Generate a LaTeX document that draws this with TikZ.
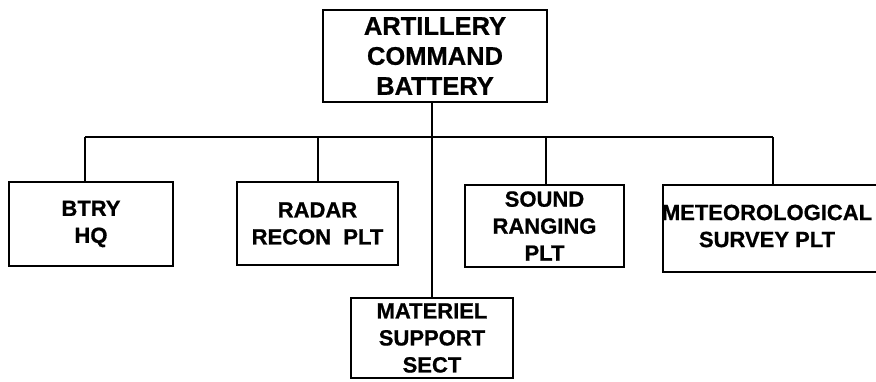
\documentclass[tikz,border=0pt]{standalone}
\usepackage{fontspec}
\setmainfont{Liberation Sans}
\newfontfamily\heavyfont{Liberation Sans Bold}[FakeBold=0.8]
\begin{document}
\begin{tikzpicture}[x=1pt,y=-1pt,
  box/.style={draw,line width=2.6pt,inner sep=0pt,align=center,font=\heavyfont\fontsize{22}{27}\selectfont},
  bigbox/.style={box,font=\heavyfont\fontsize{25.5}{30}\selectfont},
  txt/.style={inner sep=0pt,align=center,font=\heavyfont\fontsize{22}{27}\selectfont},
  conn/.style={line width=2.6pt}]
\useasboundingbox (0,0) rectangle (876,381);
\clip (0,0) rectangle (876,381);
\node[bigbox,minimum width=224pt,minimum height=92pt] (top) at (435,56) {ARTILLERY\\COMMAND\\BATTERY};
\node[box,minimum width=164pt,minimum height=84pt] (btry) at (91,224) {BTRY\\HQ};
\node[box,minimum width=161pt,minimum height=83pt] (radar) at (317.5,223.5) {RADAR\\RECON\ \ PLT};
\node[box,minimum width=159pt,minimum height=82pt,text depth=0pt] (sound) at (544.5,226) {SOUND\\RANGING\\PLT};
\node[box,minimum width=226pt,minimum height=87pt] (met) at (776,228.5) {};
\node[txt] (mettxt) at (767,226) {METEOROLOGICAL\\SURVEY PLT};
\node[box,minimum width=162pt,minimum height=80pt] (mat) at (432,338) {MATERIEL\\SUPPORT\\SECT};
\coordinate (barL) at (85,137);
\coordinate (barR) at (773,137);
\coordinate (barRad) at (318,137);
\coordinate (barSnd) at (546,137);
\draw[conn] (barL) -- (barR);
\draw[conn] (barL) -- (btry.north -| barL);
\draw[conn] (barRad) -- (radar.north -| barRad);
\draw[conn] (barSnd) -- (sound.north -| barSnd);
\draw[conn] (barR) -- (met.north -| barR);
\draw[conn] (top.south -| mat.north) -- (mat.north);
\end{tikzpicture}
\end{document}
